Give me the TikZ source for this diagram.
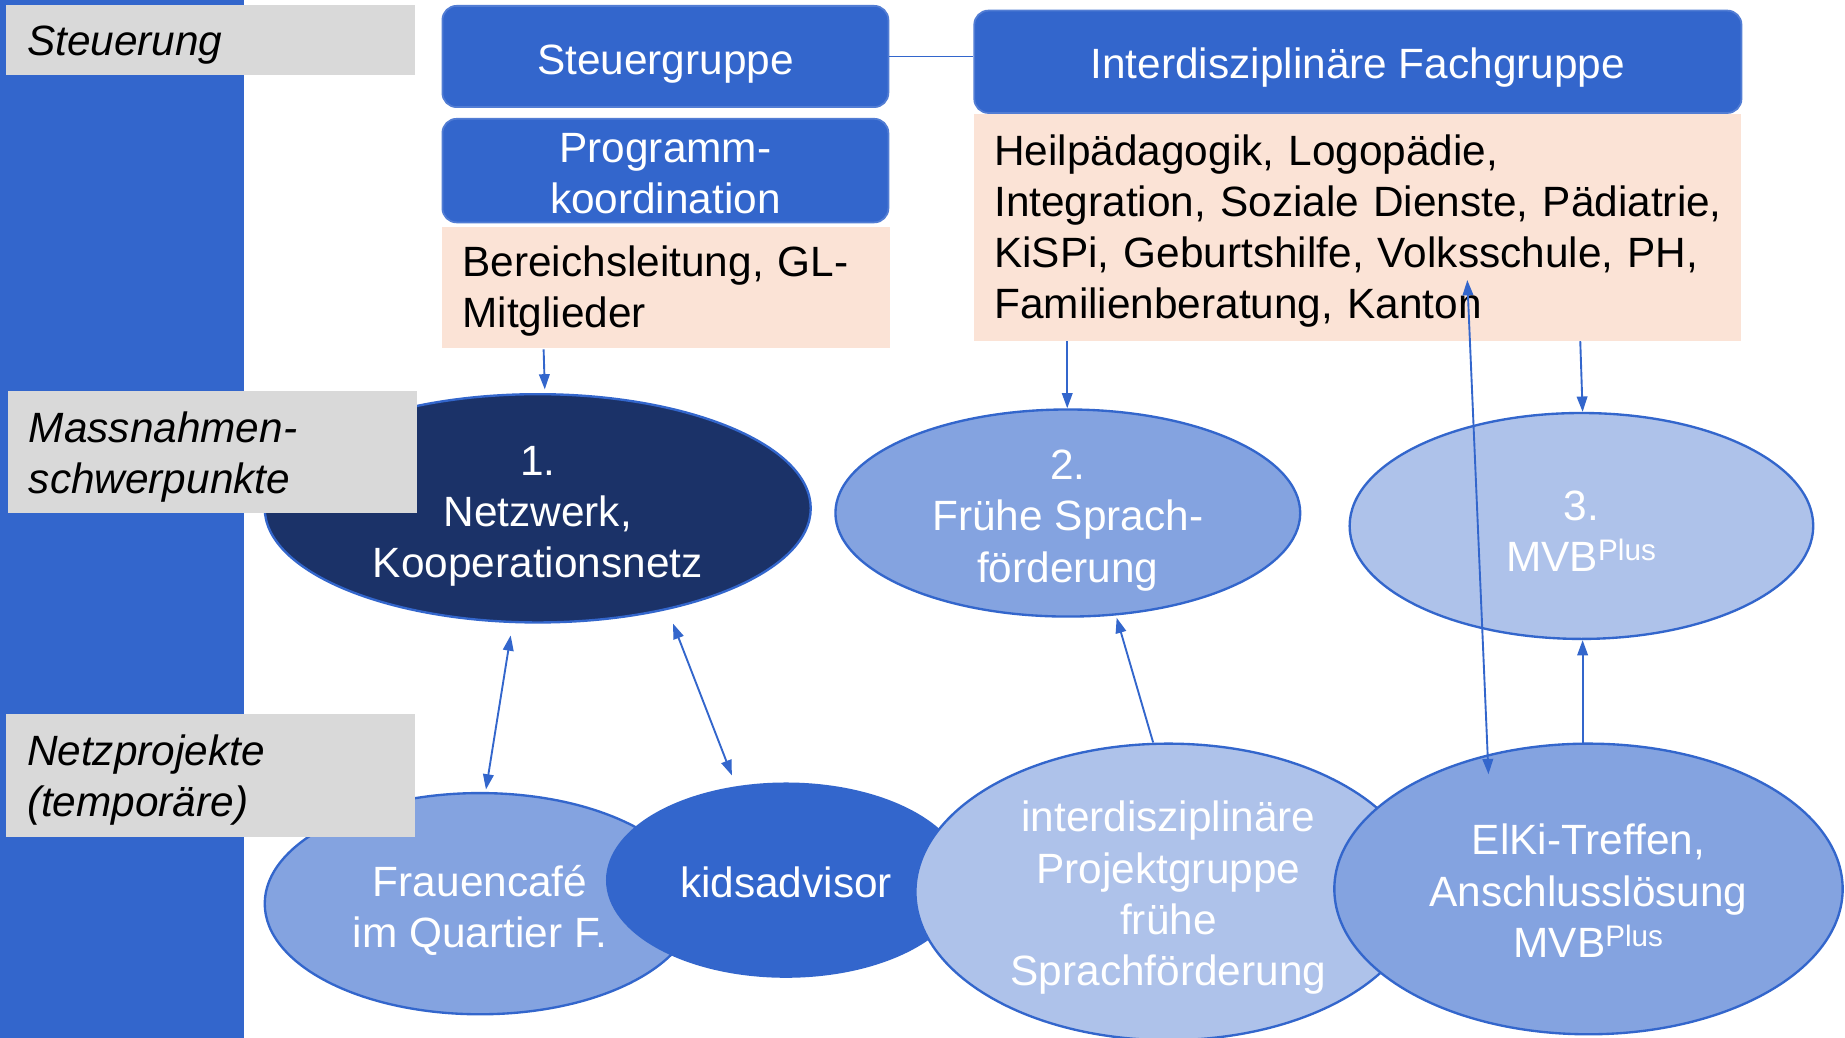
\documentclass[tikz,border=0pt]{standalone}
\usepackage{fontspec}
\setmainfont{Liberation Sans}
\usetikzlibrary{arrows.meta,shapes.geometric}
\definecolor{bar}{HTML}{3366CC}
\definecolor{navy}{HTML}{1B3268}
\definecolor{mid}{HTML}{84A3E0}
\definecolor{light}{HTML}{AEC2EA}
\definecolor{peach}{HTML}{FBE3D6}
\definecolor{grey}{HTML}{D9D9D9}
\newcommand{\dn}[1]{\rule{0pt}{#1pt}}
\begin{document}
\begin{tikzpicture}[x=1pt,y=-1pt,
  font=\fontsize{36}{43.5}\selectfont,
  lab/.style={fill=grey, inner sep=0pt, inner xsep=18pt, text width=312pt, align=left, minimum width=348pt, font=\fontsize{36}{43.5}\selectfont\itshape},
  bluebox/.style={fill=bar, draw=bar!85!white, line width=1.5pt, rounded corners=12pt, text=white, align=center, inner sep=0pt},
  peachbox/.style={fill=peach, inner sep=0pt, inner xsep=17pt, align=left, text=black},
  ell/.style={ellipse, draw=bar, line width=2pt, inner sep=0pt, inner ysep=-12pt, text=white, align=center},
  arr/.style={draw=bar, line width=1.6pt, -{Triangle[length=13pt,width=9pt]}},
  darr/.style={draw=bar, line width=1.6pt, {Triangle[length=13pt,width=9pt]}-{Triangle[length=13pt,width=9pt]}}]
\useasboundingbox (0,0) rectangle (1568,882);
\fill[white] (0,0) rectangle (1568,882);
\fill[bar] (0,0) rectangle (207,882);

% top boxes
\node[bluebox, minimum width=379pt, minimum height=86pt] (sg) at (565.5,48) {\dn{38}Steuergruppe};
\node[bluebox, minimum width=379pt, minimum height=88pt] (pk) at (565.5,145) {\dn{30}Programm-\\koordination};
\node[peachbox, minimum width=380pt, minimum height=103pt, text width=346pt] (bl) at (566,244.5) {\dn{32}Bereichsleitung, GL-\\Mitglieder};
\node[bluebox, minimum width=652pt, minimum height=87pt] (fg) at (1154,52.5) {\dn{36}Interdisziplinäre Fachgruppe};
\node[peachbox, minimum width=652pt, minimum height=193pt, text width=618pt] (fl) at (1154,193.5) {\mbox{\dn{32}Heilpädagogik, Logopädie,}\\\mbox{Integration, Soziale Dienste, Pädiatrie,}\\\mbox{KiSPi, Geburtshilfe, Volksschule, PH,}\\\mbox{Familienberatung, Kanton}};
\draw[bar, line width=1.6pt] (sg.east) -- (sg.east -| fg.west);

% ellipses
\node[ell, fill=navy, minimum width=464pt, minimum height=194pt] (e1) at (457,432) {\dn{38}1.\\Netzwerk,\\Kooperationsnetz};
\node[ell, fill=mid, minimum width=395pt, minimum height=176pt] (e2) at (907.5,436) {\dn{38}2.\\Frühe Sprach-\\förderung};
\node[ell, fill=light, minimum width=394pt, minimum height=192pt] (e3) at (1344,447) {\dn{34}3.\\MVB\textsuperscript{Plus}};
\node[ell, fill=mid, minimum width=366pt, minimum height=188pt] (fc) at (408,768) {\dn{38}Frauencafé\\im Quartier F.};
\node[ell, fill=bar, minimum width=304pt, minimum height=164pt] (kd) at (668,748) {\dn{30}kidsadvisor};
\node[ell, fill=light, minimum width=430pt, minimum height=252pt] (pg) at (993,758) {\dn{36}interdisziplinäre\\Projektgruppe\\frühe\\Sprachförderung};
\node[ell, fill=mid, minimum width=432pt, minimum height=247pt] (ek) at (1350,755.5) {\dn{29}ElKi-Treffen,\\Anschlusslösung\\MVB\textsuperscript{Plus}};

% labels
\node[lab, minimum height=60pt] (l1) at (179,34) {\dn{34}Steuerung};
\node[lab, minimum height=104pt] (l2) at (180.5,384) {\dn{35}Massnahmen-\\schwerpunkte};
\node[lab, minimum height=104pt] (l3) at (179,659) {\dn{34}Netzprojekte\\(temporäre)};

% connector end points
\coordinate (a1s) at (462,297);
\coordinate (a1e) at (463,331);
\coordinate (a2s) at (907,290);
\coordinate (a2e) at (907,347);
\coordinate (a3s) at (1343,290);
\coordinate (a3e) at (1345,350);
\coordinate (b1s) at (434,540);
\coordinate (b1e) at (413,671);
\coordinate (b2s) at (572,530);
\coordinate (b2e) at (622,659);
\coordinate (c1s) at (980,631);
\coordinate (c1e) at (949,525);
\coordinate (c2s) at (1345,633);
\coordinate (c2e) at (1345,544);
\coordinate (d1s) at (1247,238);
\coordinate (d1e) at (1265,658);

\draw[arr] (a1s) -- (a1e);
\draw[arr] (a2s) -- (a2e);
\draw[arr] (a3s) -- (a3e);
\draw[darr] (b1s) -- (b1e);
\draw[darr] (b2s) -- (b2e);
\draw[arr] (c1s) -- (c1e);
\draw[arr] (c2s) -- (c2e);
\draw[darr] (d1s) -- (d1e);
\end{tikzpicture}
\end{document}
